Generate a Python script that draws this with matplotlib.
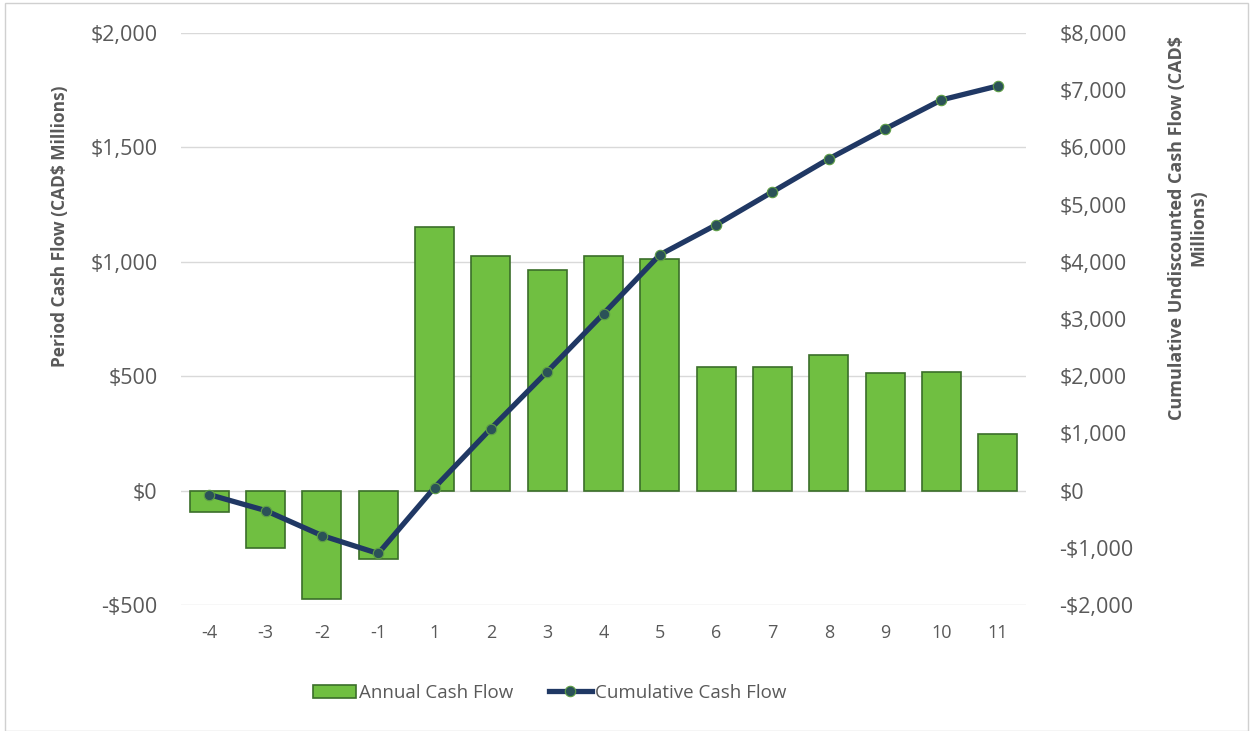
import matplotlib.pyplot as plt
import numpy as np
from matplotlib.patches import Rectangle
from matplotlib.ticker import FuncFormatter

# dados
periodos = ["-4", "-3", "-2", "-1", "1", "2", "3", "4", "5", "6", "7", "8", "9", "10", "11"]
fluxo_anual = [-95, -249, -472, -297, 1153, 1026, 965, 1026, 1013, 541, 541, 594, 515, 520, 249]
fluxo_acumulado = [-70, -349, -786, -1100, 52, 1083, 2079, 3092, 4122, 4646, 5223, 5799, 6323, 6830, 7074]

cinza = "#595959"
plt.rcParams["font.family"] = ["Open Sans", "DejaVu Sans"]

fig = plt.figure(figsize=(12.53, 7.31), dpi=100)
ax = fig.add_axes([0.1445, 0.1724, 0.6743, 0.7825])
ax2 = ax.twinx()

x = np.arange(len(periodos))

# barras do fluxo anual
barras = ax.bar(x, fluxo_anual, width=0.69, color="#70BF41", edgecolor="#3B6E2A",
                linewidth=1.2, zorder=2, label="Annual Cash Flow")
# linha do fluxo acumulado
linha, = ax2.plot(x, fluxo_acumulado, color="#203864", linewidth=3.8,
                  marker="o", markersize=7.5, markerfacecolor="#2B5258",
                  markeredgecolor="#5E9E45", markeredgewidth=0.8,
                  zorder=3, label="Cumulative Cash Flow")

ax.set_xlim(-0.5, len(periodos) - 0.5)
ax.set_ylim(-500, 2000)
ax2.set_ylim(-2000, 8000)
ax.set_yticks(np.arange(-500, 2001, 500))
ax2.set_yticks(np.arange(-2000, 8001, 1000))
ax.set_xticks(x)
ax.set_xticklabels(periodos)

def moeda(v, pos):
    if v < 0:
        return "-${:,.0f}".format(-v)
    return "${:,.0f}".format(v)

ax.yaxis.set_major_formatter(FuncFormatter(moeda))
ax2.yaxis.set_major_formatter(FuncFormatter(moeda))

ax.grid(axis="y", color="#D9D9D9", linewidth=1, zorder=0)
ax.set_axisbelow(True)
for a in (ax, ax2):
    for s in a.spines.values():
        s.set_visible(False)
ax.tick_params(axis="y", length=0, pad=17, labelsize=15.5, labelcolor=cinza)
ax.tick_params(axis="x", length=0, pad=14, labelsize=13, labelcolor=cinza)
ax2.tick_params(axis="y", length=0, pad=24, labelsize=15.5, labelcolor=cinza)

# rótulos dos eixos
fig.text(0.048, 0.691, "Period Cash Flow (CAD$ Millions)", rotation=90,
         ha="center", va="center", fontsize=12.5, fontweight="bold", color=cinza)
fig.text(0.948, 0.688, "Cumulative Undiscounted Cash Flow (CAD$\nMillions)",
         rotation=90, ha="center", va="center", fontsize=13, fontweight="bold",
         color=cinza, multialignment="center", linespacing=1.25)

# legenda
fig.legend([barras, linha], ["Annual Cash Flow", "Cumulative Cash Flow"],
           loc="center", bbox_to_anchor=(0.4386, 0.052), ncol=2, frameon=False,
           fontsize=13.5, labelcolor=cinza, handlelength=2.3, handletextpad=0.15,
           columnspacing=1.9)

# moldura da figura
fig.patches.append(Rectangle((0.004, 0.0), 0.992, 0.996, transform=fig.transFigure,
                             fill=False, edgecolor="#D0D0D0", linewidth=1))

plt.savefig("out.png", dpi=100)
plt.close()
